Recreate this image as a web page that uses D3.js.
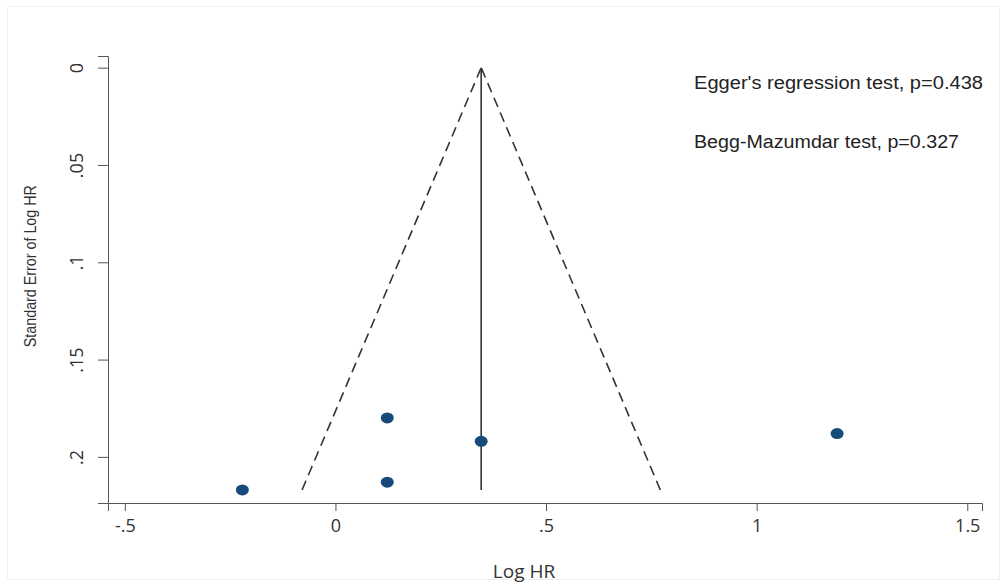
<!DOCTYPE html>
<html>
<head>
<meta charset="utf-8">
<script src="https://cdn.jsdelivr.net/npm/d3@7"></script>
<style>
  body { margin: 0; background: #fff; }
  .tick text { font-family: "Open Sans", "DejaVu Sans", sans-serif; font-size: 18px; fill: #333; }
  .note { font-family: "Liberation Sans", Arial, sans-serif; font-size: 18px; fill: #222; }
</style>
</head>
<body>
<script>
// studies: log hazard ratio and its standard error
var logHR = [-0.221, 0.123, 0.123, 0.346, 1.191];
var seLogHR = [0.217, 0.180, 0.213, 0.192, 0.188];
var pooledLogHR = 0.346;
var xTicks = [-0.5, 0, 0.5, 1, 1.5];
var yTicks = [0, 0.05, 0.1, 0.15, 0.2];
var notes = ["Egger's regression test, p=0.438", "Begg-Mazumdar test, p=0.327"];

var w = 1002, h = 586;

var x = d3.scaleLinear().domain([-0.54, 1.535]).range([108, 982]);
var y = d3.scaleLinear().domain([-0.006, 0.2237]).range([56, 503]);

var svg = d3.select('body').append('svg')
  .attr('width', w)
  .attr('height', h);

// faint outer frame
svg.append('rect')
  .attr('x', 7.5).attr('y', 6.5)
  .attr('width', 992).attr('height', 573)
  .attr('fill', 'none')
  .attr('stroke', '#f2f2f2');

function fmt(d) {
  return d === 0 ? '0' : String(d).replace(/^(-?)0\./, '$1.');
}

// x axis
var xAxis = svg.append('g')
  .attr('transform', 'translate(0,' + y.range()[1] + ')')
  .call(d3.axisBottom(x).tickValues(xTicks).tickFormat(fmt).tickSizeOuter(0).tickSize(8).tickPadding(5));
xAxis.selectAll('path, line').attr('stroke', '#555');
xAxis.selectAll('text').attr('dy', '0.9em');

// y axis, labels rotated
var yAxis = svg.append('g')
  .attr('transform', 'translate(' + x.range()[0] + ',0)')
  .call(d3.axisLeft(y).tickValues(yTicks).tickFormat(fmt).tickSizeOuter(0).tickSize(10));
yAxis.selectAll('path, line').attr('stroke', '#555');
yAxis.selectAll('text')
  .attr('x', null)
  .attr('text-anchor', 'middle')
  .attr('transform', 'translate(-31,0) rotate(-90)')
  .attr('dy', '0.35em');

// axis titles
svg.append('text')
  .attr('x', 524)
  .attr('y', 578)
  .attr('text-anchor', 'middle')
  .style('font-family', '"Open Sans", "DejaVu Sans", sans-serif')
  .style('font-size', '19px')
  .attr('fill', '#333')
  .text('Log HR');

svg.append('text')
  .attr('transform', 'translate(36,' + y(0.102) + ') rotate(-90)')
  .attr('text-anchor', 'middle')
  .attr('textLength', 162)
  .attr('lengthAdjust', 'spacingAndGlyphs')
  .style('font-family', '"Liberation Sans Narrow", "Liberation Sans", sans-serif')
  .style('font-size', '17px')
  .attr('fill', '#333')
  .text('Standard Error of Log HR');

// pseudo 95% confidence limits
var maxSE = d3.max(seLogHR);
var funnel = [
  [[pooledLogHR - 1.96 * maxSE, maxSE], [pooledLogHR, 0]],
  [[pooledLogHR + 1.96 * maxSE, maxSE], [pooledLogHR, 0]]
];
var line = d3.line().x(function(d){ return x(d[0]); }).y(function(d){ return y(d[1]); });

svg.selectAll('.limit')
  .data(funnel)
  .enter()
  .append('path')
  .classed('limit', true)
  .attr('d', line)
  .attr('fill', 'none')
  .attr('stroke', '#333')
  .attr('stroke-width', 1.6)
  .attr('stroke-dasharray', '10,6');

svg.append('path')
  .attr('d', line([[pooledLogHR, 0], [pooledLogHR, maxSE]]))
  .attr('stroke', '#333')
  .attr('stroke-width', 1.6);

// studies
svg.selectAll('.study')
  .data(logHR)
  .enter()
  .append('ellipse')
  .classed('study', true)
  .attr('cx', function(d){ return x(d); })
  .attr('cy', function(d, i){ return y(seLogHR[i]); })
  .attr('rx', 6.5)
  .attr('ry', 5.5)
  .attr('fill', '#174a78');

// test notes
var noteWidths = [289, 265];
svg.selectAll('.note')
  .data(notes)
  .enter()
  .append('text')
  .classed('note', true)
  .attr('x', 694)
  .attr('y', function(d, i){ return 89 + i * 59; })
  .attr('textLength', function(d, i){ return noteWidths[i]; })
  .attr('lengthAdjust', 'spacingAndGlyphs')
  .text(function(d){ return d; });
</script>
</body>
</html>
